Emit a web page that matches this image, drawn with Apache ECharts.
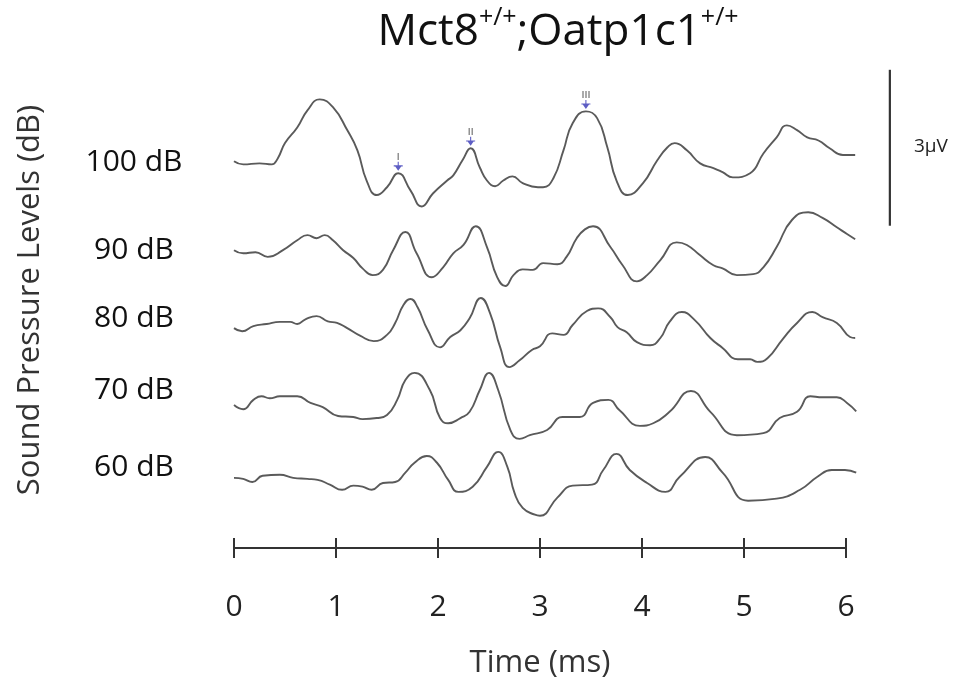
<!DOCTYPE html>
<html><head><meta charset="utf-8">
<script src="https://cdn.jsdelivr.net/npm/echarts@6/dist/echarts.min.js"></script>
<style>html,body{margin:0;padding:0;background:#fff}#c{width:964px;height:683px}</style>
</head><body><div id="c"></div>
<script>
// ---- data (time in ms, amplitude in μV relative to each trace's baseline) ----
const levels = ['100 dB', '90 dB', '80 dB', '70 dB', '60 dB'];
const offsets = [7.44, 5.73, 4.23, 2.75, 1.35];
const xTicks = [0, 1, 2, 3, 4, 5, 6];

const wave100 = [[0.00,0.00],[0.09,-0.06],[0.25,-0.04],[0.37,-0.06],[0.43,0.06],[0.50,0.35],[0.62,0.65],[0.72,0.98],[0.84,1.19],[0.97,1.04],[1.11,0.60],[1.21,0.21],[1.30,-0.37],[1.40,-0.65],[1.50,-0.50],[1.61,-0.23],[1.73,-0.56],[1.84,-0.87],[1.95,-0.62],[2.09,-0.37],[2.15,-0.27],[2.24,0.02],[2.32,0.25],[2.41,-0.12],[2.48,-0.37],[2.56,-0.48],[2.64,-0.37],[2.73,-0.29],[2.83,-0.42],[2.98,-0.50],[3.03,-0.50],[3.13,-0.33],[3.23,0.21],[3.32,0.73],[3.45,0.96],[3.56,0.83],[3.66,0.27],[3.75,-0.37],[3.86,-0.65],[4.01,-0.42],[4.15,0.02],[4.25,0.27],[4.32,0.35],[4.44,0.21],[4.57,-0.04],[4.70,-0.13],[4.79,-0.21],[4.89,-0.31],[5.06,-0.23],[5.19,0.15],[5.32,0.46],[5.42,0.69],[5.52,0.60],[5.62,0.46],[5.73,0.40],[5.84,0.25],[5.97,0.12],[6.09,0.12]];
const wave90 = [[0.00,0.00],[0.09,-0.06],[0.21,-0.04],[0.33,-0.13],[0.48,0.00],[0.62,0.19],[0.72,0.29],[0.81,0.23],[0.89,0.29],[0.97,0.19],[1.07,0.00],[1.17,-0.15],[1.26,-0.35],[1.36,-0.48],[1.46,-0.38],[1.56,0.00],[1.68,0.35],[1.79,-0.06],[1.94,-0.52],[2.05,-0.33],[2.15,-0.06],[2.25,0.10],[2.37,0.46],[2.48,0.06],[2.58,-0.52],[2.66,-0.69],[2.74,-0.48],[2.83,-0.37],[2.93,-0.38],[3.03,-0.25],[3.17,-0.27],[3.26,-0.13],[3.36,0.23],[3.44,0.40],[3.52,0.46],[3.69,0.06],[3.81,-0.29],[3.95,-0.60],[4.05,-0.48],[4.18,-0.19],[4.34,0.15],[4.44,0.10],[4.57,-0.10],[4.70,-0.29],[4.79,-0.35],[4.93,-0.48],[5.09,-0.46],[5.19,-0.33],[5.32,0.06],[5.47,0.58],[5.63,0.73],[5.77,0.62],[5.91,0.44],[6.01,0.31],[6.09,0.21]];
const wave80 = [[0.00,0.00],[0.08,-0.06],[0.19,0.04],[0.32,0.08],[0.45,0.12],[0.55,0.12],[0.62,0.08],[0.70,0.17],[0.81,0.23],[0.92,0.13],[1.01,0.10],[1.11,0.00],[1.24,-0.15],[1.37,-0.25],[1.50,-0.13],[1.58,0.10],[1.66,0.44],[1.73,0.56],[1.80,0.40],[1.90,-0.04],[2.02,-0.37],[2.12,-0.17],[2.22,-0.04],[2.31,0.19],[2.42,0.58],[2.51,0.29],[2.61,-0.37],[2.70,-0.75],[2.80,-0.62],[2.92,-0.42],[3.00,-0.35],[3.12,-0.10],[3.23,-0.13],[3.32,0.06],[3.46,0.33],[3.57,0.38],[3.69,0.21],[3.76,0.02],[3.85,-0.08],[3.95,-0.27],[4.08,-0.33],[4.18,-0.19],[4.27,0.12],[4.39,0.31],[4.52,0.15],[4.67,-0.19],[4.79,-0.38],[4.94,-0.60],[5.06,-0.60],[5.13,-0.65],[5.23,-0.58],[5.38,-0.21],[5.52,0.10],[5.67,0.31],[5.77,0.21],[5.91,0.10],[6.04,-0.17],[6.09,-0.19]];
const wave70 = [[0.00,0.00],[0.09,-0.08],[0.19,0.10],[0.27,0.17],[0.35,0.13],[0.45,0.17],[0.62,0.17],[0.75,0.04],[0.87,-0.04],[1.02,-0.21],[1.17,-0.23],[1.26,-0.27],[1.40,-0.25],[1.50,-0.19],[1.60,0.10],[1.68,0.48],[1.77,0.62],[1.92,0.29],[2.02,-0.25],[2.10,-0.35],[2.22,-0.25],[2.31,-0.13],[2.41,0.29],[2.50,0.62],[2.59,0.29],[2.71,-0.48],[2.80,-0.65],[2.90,-0.58],[3.07,-0.48],[3.22,-0.23],[3.39,-0.23],[3.52,0.04],[3.67,0.10],[3.78,-0.10],[3.98,-0.40],[4.11,-0.35],[4.27,-0.13],[4.48,0.27],[4.67,-0.13],[4.93,-0.58],[5.19,-0.54],[5.35,-0.25],[5.52,-0.13],[5.65,0.17],[5.77,0.15],[5.91,0.15],[6.01,0.04],[6.10,-0.12]];
const wave60 = [[0.00,0.00],[0.09,-0.02],[0.18,-0.08],[0.28,0.04],[0.45,0.06],[0.58,0.00],[0.72,-0.02],[0.82,-0.04],[0.94,-0.13],[1.06,-0.23],[1.17,-0.15],[1.26,-0.17],[1.35,-0.23],[1.46,-0.10],[1.58,-0.08],[1.68,0.10],[1.77,0.29],[1.89,0.42],[1.99,0.29],[2.10,-0.04],[2.20,-0.27],[2.34,-0.17],[2.48,0.21],[2.59,0.50],[2.68,0.21],[2.75,-0.29],[2.83,-0.58],[2.95,-0.71],[3.00,-0.73],[3.17,-0.38],[3.32,-0.15],[3.51,-0.13],[3.62,0.15],[3.75,0.46],[3.88,0.15],[4.05,-0.10],[4.23,-0.27],[4.37,0.02],[4.62,0.40],[4.79,0.10],[5.04,-0.44],[5.32,-0.40],[5.55,-0.23],[5.72,0.02],[5.86,0.15],[5.99,0.15],[6.10,0.10]];
const waves = [wave100, wave90, wave80, wave70, wave60];

const peakNames = ['I', 'II', 'III'];
const peakTimes = [1.61, 2.32, 3.45];
const peakValues = [-0.23, 0.25, 0.96];

const scaleBarUV = 3;
const scaleBarTime = 6.43;
const scaleBarBase = 6.2;

// ---- chart ----
const FONT = 'Open Sans';
const PX_PER_MS = 102;
const chart = echarts.init(document.getElementById('c'));

const lineSeries = waves.map((w, i) => ({
  name: levels[i],
  type: 'line',
  xAxisIndex: 2, yAxisIndex: 1,
  data: w.map(([t, v]) => [t, v + offsets[i]]),
  smooth: 0.5,
  symbol: 'none',
  lineStyle: { color: '#5a5a5a', width: 1.9 },
  silent: true,
  z: 3
}));

const arrowPath = 'path://M0,4 L10,4 L10,5.2 L0,5.2 Z M1.5,5 L8.5,5 L5,10 Z M4.4,0 L5.6,0 L5.6,5 L4.4,5 Z';

const peakSeries = {
  type: 'scatter',
  xAxisIndex: 2, yAxisIndex: 1,
  data: peakTimes.map((t, i) => ({ value: [t, peakValues[i] + offsets[0]], name: peakNames[i] })),
  symbol: arrowPath,
  symbolSize: [9, 9],
  symbolOffset: [0, -7],
  itemStyle: { color: '#3535b5' },
  label: {
    show: true, position: 'top', distance: 0,
    formatter: p => p.name,
    color: '#777', fontSize: 9, fontWeight: 'bold', fontFamily: 'DejaVu Sans Condensed'
  },
  silent: true, z: 4
};

const scaleSeries = {
  type: 'line',
  xAxisIndex: 2, yAxisIndex: 1,
  data: [[scaleBarTime, scaleBarBase], [scaleBarTime, scaleBarBase + scaleBarUV]],
  symbol: 'none', silent: true,
  lineStyle: { color: '#333', width: 2.2 }
};

const levelLabelY = [162, 250, 318, 390, 467];
const extMax = 6.6;

const option = {
  animation: false,
  backgroundColor: '#fff',
  grid: [
    { left: 234, width: 6 * PX_PER_MS, top: 49, bottom: 135, outerBoundsMode: 'none', containLabel: false },
    { left: 234, width: extMax * PX_PER_MS, top: 49, bottom: 135, outerBoundsMode: 'none', containLabel: false }
  ],
  xAxis: [{
    gridIndex: 0,
    type: 'value', min: 0, max: 6, interval: 1,
    axisLine: { lineStyle: { color: '#333', width: 2 } },
    axisTick: { show: true, length: 10, lineStyle: { color: '#333', width: 2 } },
    axisLabel: { color: '#222', fontSize: 30, fontFamily: FONT, margin: 44,
      formatter: v => xTicks.includes(v) ? String(v) : '' },
    splitLine: { show: false },
    name: 'Time (ms)', nameLocation: 'middle', nameGap: 100,
    nameTextStyle: { color: '#333', fontSize: 31, fontFamily: FONT }
  }, {
    gridIndex: 0,
    type: 'value', min: 0, max: 6, interval: 1, position: 'bottom',
    axisLine: { show: false },
    axisTick: { show: true, inside: true, length: 10, lineStyle: { color: '#333', width: 2 } },
    axisLabel: { show: false }, splitLine: { show: false }
  }, {
    gridIndex: 1, type: 'value', min: 0, max: extMax, show: false
  }],
  yAxis: [
    { gridIndex: 0, type: 'value', min: 0, max: 9.6, show: false },
    { gridIndex: 1, type: 'value', min: 0, max: 9.6, show: false }
  ],
  series: [...lineSeries, peakSeries, scaleSeries],
  graphic: [
    {
      type: 'text', x: 558, y: 32,
      style: {
        text: '{a|Mct8}{s|+/+}{a|;Oatp1c1}{s|+/+}',
        align: 'center', verticalAlign: 'middle',
        rich: {
          a: { fontSize: 44, fontFamily: FONT, fill: '#111', lineHeight: 54 },
          s: { fontSize: 25, fontFamily: FONT, fill: '#111', lineHeight: 54, verticalAlign: 'top', padding: [0, 0, 24, 0] }
        }
      }
    },
    {
      type: 'text', x: 30, y: 300, rotation: Math.PI / 2,
      style: { text: 'Sound Pressure Levels (dB)', fontSize: 31, fontFamily: FONT, fill: '#333', align: 'center', verticalAlign: 'middle' }
    },
    ...levels.map((l, i) => ({
      type: 'text', x: 134, y: levelLabelY[i],
      style: { text: l, fontSize: 30, fontFamily: FONT, fill: '#111', align: 'center', verticalAlign: 'middle' }
    })),
    {
      type: 'text', x: 914, y: 147,
      style: { text: '3μV', fontSize: 19, fontFamily: FONT, fill: '#222', align: 'left', verticalAlign: 'middle' }
    }
  ]
};
chart.setOption(option);
</script></body></html>
